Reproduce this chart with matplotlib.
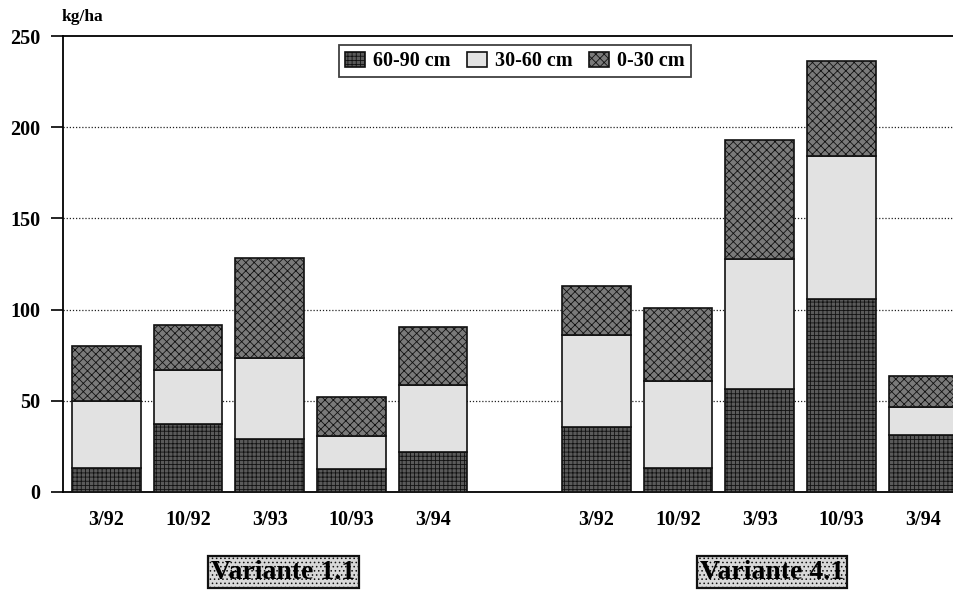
import numpy as np
import matplotlib
matplotlib.use("Agg")
from matplotlib import pyplot as plt

labels = ["3/92", "10/92", "3/93", "10/93", "3/94",
          "3/92", "10/92", "3/93", "10/93", "3/94"]
positions = [0, 1, 2, 3, 4, 6, 7, 8, 9, 10]
deep = [13, 37, 29, 12.5, 22, 35.5, 13, 56.5, 106, 31]      # 60-90 cm
middle = [37, 30, 44.5, 18, 36.5, 50.5, 48, 71.5, 78, 15.5]  # 30-60 cm
top = [30, 24.5, 55, 21.5, 32, 27, 40, 65, 52.5, 17]         # 0-30 cm
groups = ["Variante 1.1", "Variante 4.1"]

plt.rcParams["font.family"] = ["Liberation Serif", "DejaVu Serif"]
plt.rcParams["font.weight"] = "bold"
plt.rcParams["hatch.linewidth"] = 0.6

fig = plt.figure(figsize=(9.54, 5.92), dpi=100)
ax = fig.add_axes([0.066, 0.169, 0.953, 0.770])

w = 0.84
deep = np.array(deep)
middle = np.array(middle)
top = np.array(top)
ax.bar(positions, deep, w, color="#5a5a5a", edgecolor="#111111", hatch="++++",
       linewidth=1.2, label="60-90 cm", zorder=3)
ax.bar(positions, middle, w, bottom=deep, color="#e2e2e2", edgecolor="#111111",
       linewidth=1.2, label="30-60 cm", zorder=3)
ax.bar(positions, top, w, bottom=deep + middle, color="#7a7a7a", edgecolor="#111111",
       hatch="xxxx", linewidth=1.2, label="0-30 cm", zorder=3)

ax.set_xlim(-0.53, 10.6)
ax.set_ylim(0, 250)
ax.set_yticks([0, 50, 100, 150, 200, 250])
ax.set_xticks(positions)
ax.set_xticklabels(labels)
ax.tick_params(axis="y", direction="out", length=9, width=1.2, labelsize=14.5, pad=7)
ax.tick_params(axis="x", length=0, labelsize=14.5, pad=13)
for y in [50, 100, 150, 200]:
    ax.axhline(y, color="#222222", linestyle=(0, (1, 1.5)), linewidth=0.9, zorder=1)
for s in ["left", "bottom", "top"]:
    ax.spines[s].set_linewidth(1.3)
ax.spines["right"].set_visible(False)

ax.text(0.021, 1.025, "kg/ha", transform=ax.transAxes, fontsize=12.5,
        ha="center", va="bottom")

leg = ax.legend(loc="upper center", bbox_to_anchor=(0.497, 0.980), ncol=3,
                frameon=True, fancybox=False, edgecolor="#111111", fontsize=14.5,
                handlelength=1.0, handleheight=0.75, handletextpad=0.4,
                columnspacing=0.8, borderpad=0.3, borderaxespad=0)
leg.get_frame().set_linewidth(1.3)

for name, cx in zip(groups, [2.17, 8.15]):
    ax.text(cx, -44, name, fontsize=20, fontweight="bold", ha="center", va="center",
            bbox=dict(boxstyle="square,pad=0.12", facecolor="#d8d8d8",
                      edgecolor="#111111", linewidth=1.6, hatch="...."),
            clip_on=False)

fig.savefig("out.png", dpi=100)
